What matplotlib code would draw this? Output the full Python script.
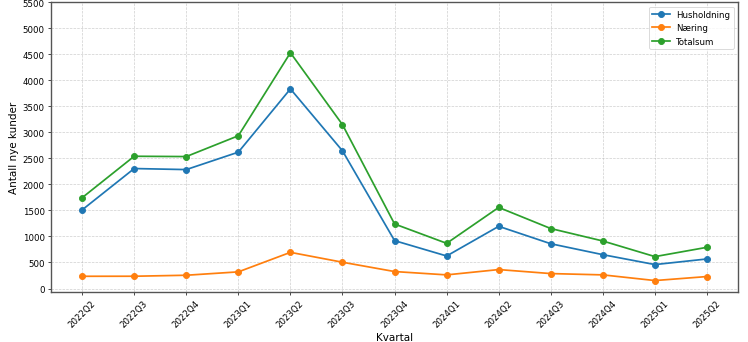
import matplotlib.pyplot as plt

kvartaler = ['2022Q2', '2022Q3', '2022Q4', '2023Q1', '2023Q2', '2023Q3', '2023Q4',
             '2024Q1', '2024Q2', '2024Q3', '2024Q4', '2025Q1', '2025Q2']
husholdning = [1510, 2305, 2285, 2620, 3835, 2645, 920, 625, 1195, 860, 650, 460, 568]
naering = [235, 236, 255, 320, 695, 505, 326, 262, 364, 287, 262, 153, 230]
totalsum = [1744, 2541, 2535, 2935, 4530, 3148, 1240, 868, 1558, 1152, 913, 613, 792]


def main():
    fig, ax = plt.subplots(figsize=(12, 5.5))
    for verdier, navn in [(husholdning, 'Husholdning'), (naering, 'Næring'), (totalsum, 'Totalsum')]:
        ax.plot(kvartaler, verdier, marker='o', linewidth=2, markersize=7, label=navn)
    ax.set_xlabel('Kvartal', fontsize=12)
    ax.set_ylabel('Antall nye kunder', fontsize=12)
    ax.set_ylim(top=5500)
    ax.set_yticks(range(0, 5501, 500))
    ax.grid(True, linestyle='--', alpha=0.6)
    for spine in ax.spines.values():
        spine.set_linewidth(1.6)
        spine.set_color('#555555')
    ax.legend(loc='upper right')
    plt.xticks(rotation=45)
    fig.subplots_adjust(left=0.068, right=0.987, top=0.991, bottom=0.146)
    fig.savefig('out.png', dpi=748 / 12)


if __name__ == "__main__":
    main()
